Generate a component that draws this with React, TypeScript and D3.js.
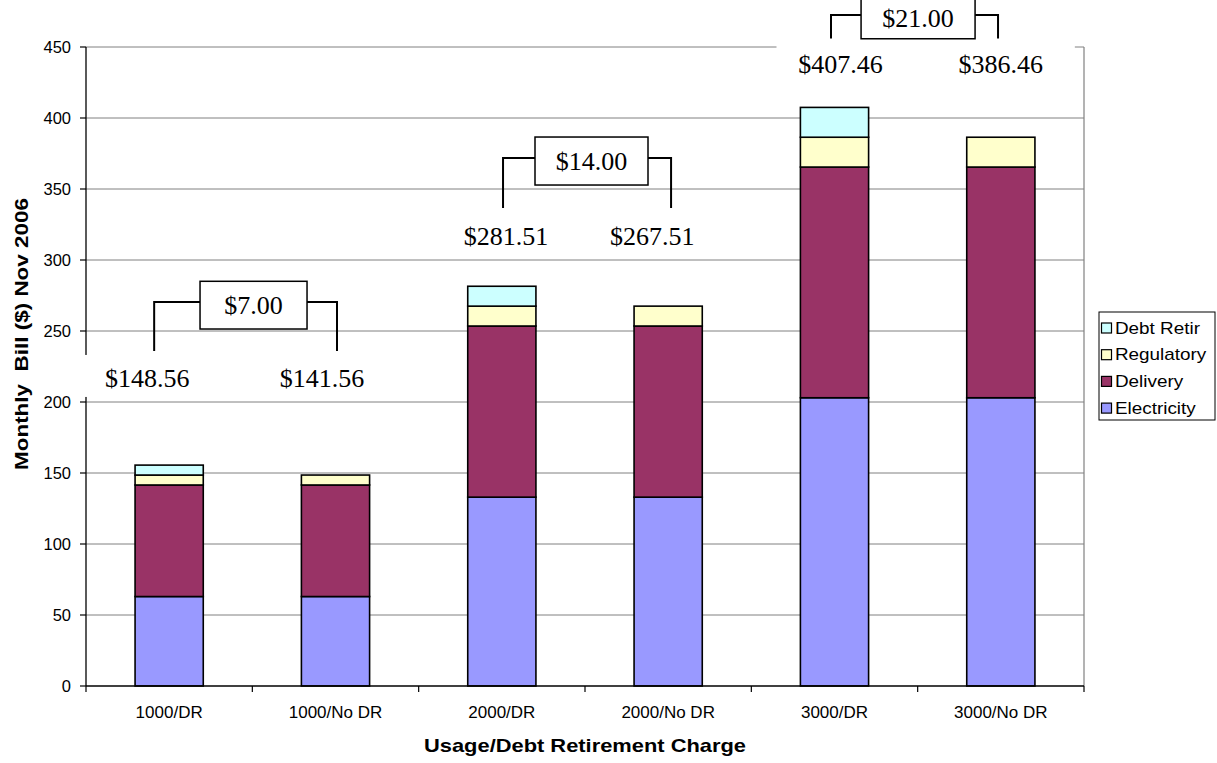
import React from 'react'
import * as d3 from 'd3'

const categories = ['1000/DR', '1000/No DR', '2000/DR', '2000/No DR', '3000/DR', '3000/No DR']
const electricity = [63, 63, 133, 133, 203, 203]
const delivery = [78.56, 78.56, 120.51, 120.51, 162.46, 162.46]
const regulatory = [7, 7, 14, 14, 21, 21]
const debtRetir = [7, 0, 14, 0, 21, 0]
const seriesNames = ['Electricity', 'Delivery', 'Regulatory', 'Debt Retir']
const seriesColors = ['#9999FF', '#993366', '#FFFFCC', '#CCFFFF']
const yTicks = [0, 50, 100, 150, 200, 250, 300, 350, 400, 450]
const totalLabels = [
	['$148.56', '$141.56'],
	['$281.51', '$267.51'],
	['$407.46', '$386.46'],
]
const diffLabels = ['$7.00', '$14.00', '$21.00']

// where the bracket callouts sit (y in chart units, x offsets from bar centres)
const callouts = [
	{ label: 210.6, top: 270.4, bottom: 236, boxTop: 285, boxBottom: 251.4, boxW: 107, boxDx: 1.2, leftDx: -15, rightDx: 1.5, labelLDx: -22, labelRDx: -13.5 },
	{ label: 310.6, top: 371.8, bottom: 336.6, boxTop: 386.6, boxBottom: 352.8, boxW: 113, boxDx: 6.5, leftDx: 1.2, rightDx: 2.9, labelLDx: 4.2, labelRDx: -16 },
	{ label: 432, top: 472.5, bottom: 456, boxTop: 485, boxBottom: 455.8, boxW: 114, boxDx: 0.4, leftDx: -3.5, rightDx: -2.8, labelLDx: 6, labelRDx: 0 },
]

const W = 1217
const H = 763
const margin = { top: 47, right: 133, bottom: 77, left: 86 }
const sans = '"Liberation Sans", Arial, sans-serif'
const serif = '"Liberation Serif", "Times New Roman", serif'

export default function App() {
	const x = d3
		.scaleBand()
		.domain(categories)
		.range([margin.left, W - margin.right])
		.paddingInner(0.59)
		.paddingOuter(0.295)
	const y = d3.scaleLinear().domain([0, 450]).range([H - margin.bottom, margin.top])
	const bw = x.bandwidth()
	const cx = (i) => x(categories[i]) + bw / 2

	const rows = categories.map((c, i) => ({
		cat: c,
		Electricity: electricity[i],
		Delivery: delivery[i],
		Regulatory: regulatory[i],
		'Debt Retir': debtRetir[i],
	}))
	const stacked = d3.stack().keys(seriesNames)(rows)

	const x0 = margin.left
	const x1 = W - margin.right
	const y0 = y(0)
	const yTop = y(450)

	const legendTop = 312
	const legendRow = 26.7

	return (
		<div style={{ position: 'absolute', left: 0, top: 0 }}>
			<svg width={W} height={H} style={{ display: 'block', background: '#fff' }}>
				{/* grid */}
				{yTicks.filter((t) => t > 0).map((t) => (
					<line key={'g' + t} x1={x0} x2={x1} y1={y(t)} y2={y(t)} stroke="#808080" strokeWidth={1} />
				))}
				<line x1={x1} x2={x1} y1={yTop} y2={y0} stroke="#808080" strokeWidth={1.2} />

				{/* bars */}
				{stacked.map((s, si) =>
					s.map((d, i) =>
						d[1] - d[0] > 0 ? (
							<rect
								key={si + '-' + i}
								x={x(categories[i])}
								y={y(d[1])}
								width={bw}
								height={y(d[0]) - y(d[1])}
								fill={seriesColors[si]}
								stroke="#000"
								strokeWidth={1.6}
							/>
						) : null
					)
				)}

				{/* y axis */}
				<line x1={x0} x2={x0} y1={yTop} y2={y0} stroke="#000" strokeWidth={1.3} />
				{yTicks.map((t) => (
					<g key={'y' + t}>
						<line x1={x0 - 6} x2={x0} y1={y(t)} y2={y(t)} stroke="#000" strokeWidth={1.2} />
						<text x={71} y={y(t)} dy="0.35em" textAnchor="end" fontFamily={sans} fontSize={16.5}>
							{t}
						</text>
					</g>
				))}

				{/* x axis */}
				<line x1={x0} x2={x1} y1={y0} y2={y0} stroke="#000" strokeWidth={1.5} />
				{d3.range(categories.length + 1).map((i) => {
					const tx = x0 + i * x.step()
					return <line key={'xt' + i} x1={tx} x2={tx} y1={y0} y2={y0 + 6} stroke="#000" strokeWidth={1.2} />
				})}
				{categories.map((c, i) => (
					<text key={'xl' + i} x={cx(i)} y={718} textAnchor="middle" fontFamily={sans} fontSize={17}>
						{c}
					</text>
				))}

				{/* axis titles */}
				<text
					x={(x0 + x1) / 2}
					y={752}
					textAnchor="middle"
					fontFamily={sans}
					fontSize={18.5}
					fontWeight="bold"
					textLength={322}
					lengthAdjust="spacingAndGlyphs"
				>
					Usage/Debt Retirement Charge
				</text>
				<text
					transform={`translate(28,334) rotate(-90)`}
					textAnchor="middle"
					fontFamily={sans}
					fontSize={18}
					fontWeight="bold"
					textLength={272}
					lengthAdjust="spacingAndGlyphs"
					style={{ whiteSpace: 'pre' }}
				>
					{'Monthly  Bill ($) Nov 2006'}
				</text>

				{/* callouts */}
				{callouts.map((c, p) => {
					const lx = cx(p * 2)
					const rx = cx(p * 2 + 1)
					const mid = (lx + rx) / 2 + c.boxDx
					const bl = mid - c.boxW / 2
					const br = mid + c.boxW / 2
					const ly = y(c.label)
					const yT = y(c.top)
					const yB = y(c.bottom)
					const labL = lx + c.labelLDx
					const labR = rx + c.labelRDx
					return (
						<g key={'c' + p}>
							<rect x={labL - 64} y={ly - 32} width={labR - labL + 138} height={42} fill="#fff" />
							<text x={labL} y={ly} textAnchor="middle" fontFamily={serif} fontSize={26}>
								{totalLabels[p][0]}
							</text>
							<text x={labR} y={ly} textAnchor="middle" fontFamily={serif} fontSize={26}>
								{totalLabels[p][1]}
							</text>
							<polyline
								points={`${lx + c.leftDx},${yB} ${lx + c.leftDx},${yT} ${bl},${yT}`}
								fill="none"
								stroke="#000"
								strokeWidth={2}
							/>
							<polyline
								points={`${br},${yT} ${rx + c.rightDx},${yT} ${rx + c.rightDx},${yB}`}
								fill="none"
								stroke="#000"
								strokeWidth={2}
							/>
							<rect
								x={bl}
								y={y(c.boxTop)}
								width={c.boxW}
								height={y(c.boxBottom) - y(c.boxTop)}
								fill="#fff"
								stroke="#000"
								strokeWidth={1.5}
							/>
							<text
								x={mid}
								y={(y(c.boxTop) + y(c.boxBottom)) / 2}
								dy="0.35em"
								textAnchor="middle"
								fontFamily={serif}
								fontSize={26}
							>
								{diffLabels[p]}
							</text>
						</g>
					)
				})}

				{/* legend */}
				<rect x={1099} y={legendTop} width={116} height={108} fill="#fff" stroke="#000" strokeWidth={1} />
				{seriesNames
					.slice()
					.reverse()
					.map((n, i) => {
						const ry = legendTop + 16 + i * legendRow
						const ci = seriesNames.indexOf(n)
						return (
							<g key={'lg' + n}>
								<rect x={1101.5} y={ry - 5} width={10} height={10} fill={seriesColors[ci]} stroke="#000" strokeWidth={1.2} />
								<text
									transform={`translate(1115,${ry}) scale(1.18,1)`}
									dy="0.36em"
									fontFamily={sans}
									fontSize={16}
								>
									{n}
								</text>
							</g>
						)
					})}
			</svg>
		</div>
	)
}
